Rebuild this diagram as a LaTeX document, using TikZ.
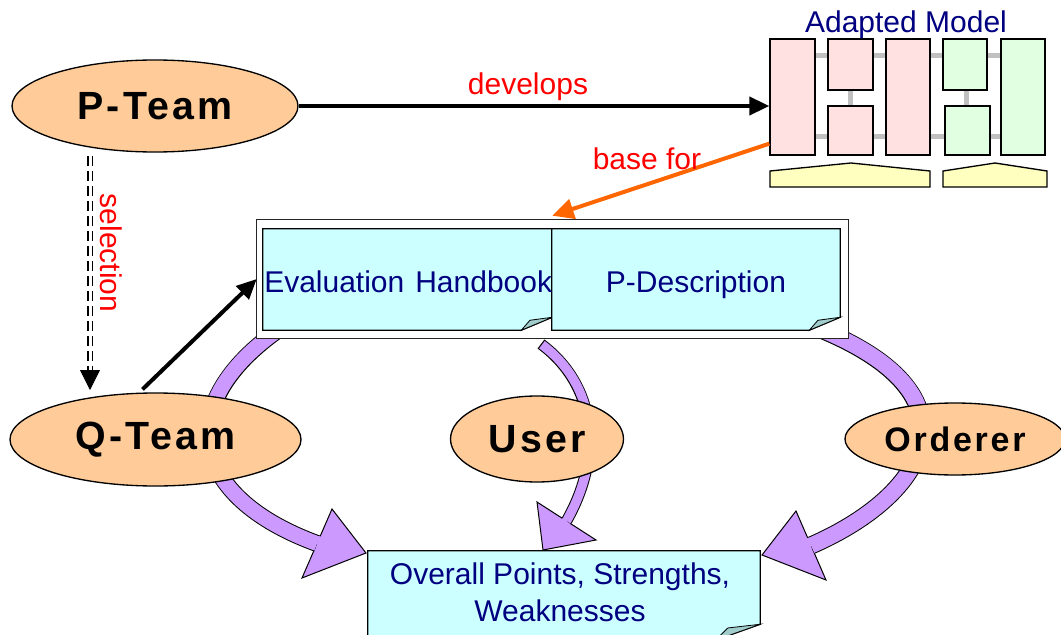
\documentclass[tikz,border=0pt]{standalone}
\usepackage{fontspec}
\setmainfont{Liberation Sans}
\newfontfamily\teamfont{Liberation Sans}[LetterSpace=8]
\usetikzlibrary{arrows.meta,calc,shapes.geometric}
\definecolor{peach}{RGB}{255,204,153}
\definecolor{notecyan}{RGB}{204,255,255}
\definecolor{foldcol}{RGB}{160,204,204}
\definecolor{lilac}{RGB}{204,153,255}
\definecolor{navy}{RGB}{0,0,128}
\definecolor{orangeA}{RGB}{255,102,0}
\definecolor{pinkbox}{RGB}{255,225,225}
\definecolor{greenbox}{RGB}{225,255,225}
\definecolor{yellowbox}{RGB}{255,255,192}
\definecolor{greyconn}{RGB}{192,192,192}
\pgfdeclarelayer{back}
\pgfdeclarelayer{mid}
\pgfsetlayers{back,mid,main}
% #1 node, #2 fold width, #3 fold height
\newcommand\drawnote[3]{%
  \filldraw[notefill] (#1.north west) -- (#1.north east) -- ($(#1.south east)+(0,-#3)$)
    -- ($(#1.south east)+(-#2,0)$) -- (#1.south west) -- cycle;
  \filldraw[foldfill] ($(#1.south east)+(0,-#3)$) -- ($(#1.south east)+(-0.72*#2,-0.77*#3)$)
    -- ($(#1.south east)+(-#2,0)$) -- cycle;}
% #1 start #2 c1 #3 c2 #4 base mid #5 p1 #6 tip #7 p2 #8 fill width #9 outline width
\newcommand\blockarrow[9]{%
  \filldraw[fill=lilac, draw=black, line width=0.75pt, line join=miter] #5 -- #6 -- #7 -- cycle;
  \draw[black, line width=#9] #1 .. controls #2 and #3 .. #4;
  \draw[lilac, line width=#8, shorten <=0.9pt] #1 .. controls #2 and #3 .. #4;
  \draw[lilac, line width=#8] #4 -- ($#4!2pt!#6$);}
\begin{document}
\begin{tikzpicture}[x=0.75pt,y=-0.75pt,
  team/.style={ellipse, draw=black, line width=1pt, fill=peach, inner sep=0pt,
    font=\teamfont\bfseries\fontsize{29.5pt}{33pt}\selectfont},
  redlabel/.style={text=red, font=\fontsize{22.5pt}{27pt}\selectfont, inner sep=0pt},
  notetext/.style={text=navy, font=\fontsize{22.5pt}{27.75pt}\selectfont, inner sep=0pt},
  notefill/.style={fill=notecyan, draw=black, line width=0.9pt},
  foldfill/.style={fill=foldcol, draw=black, line width=0.6pt},
  pinkmod/.style={draw=black, line width=1pt, fill=pinkbox, inner sep=0pt},
  greenmod/.style={draw=black, line width=1pt, fill=greenbox, inner sep=0pt},
  yellowmod/.style={draw=black, line width=1pt, fill=yellowbox},
  conn/.style={draw=greyconn, line width=3.75pt},
  blackarrow/.style={draw=black, line width=3pt, -{Triangle[length=15pt,width=13.5pt]}},
  basearrow/.style={draw=orangeA, line width=3pt, -{Triangle[length=16pt,width=15pt]}},
  seldash/.style={draw=black, line width=1.1pt, double=white, double distance=2.25pt,
    dash pattern=on 7.5pt off 3.75pt},
  seltip/.style={draw=black, line width=0.6pt, -{Triangle[length=15pt,width=15pt]}},
  box/.style={inner sep=0pt}
]
\useasboundingbox (0,0) rectangle (1061,635);

% team ellipses
\node[team, minimum width=214.5pt, minimum height=69pt] (pteam) at (155,106) {P-Team};
\node[team, minimum width=218.25pt, minimum height=69.75pt] (qteam) at (155.5,439.5) {Q-Team};
\node[team, minimum width=129.75pt, minimum height=64.5pt] (user) at (537,439) {User};
\node[team, minimum width=165pt, minimum height=54pt,
  font=\teamfont\bfseries\fontsize{25.5pt}{29pt}\selectfont] (orderer) at (955,439) {Orderer};

% adapted model
\node[pinkmod, minimum width=33.75pt, minimum height=87pt] (b1) at (792.5,97) {};
\node[pinkmod, minimum width=33.75pt, minimum height=38.25pt] (b2) at (850.5,64.5) {};
\node[pinkmod, minimum width=33.75pt, minimum height=36.75pt] (b3) at (850.5,130.5) {};
\node[pinkmod, minimum width=33pt, minimum height=87pt] (b4) at (908,97) {};
\node[greenmod, minimum width=33pt, minimum height=38.25pt] (b5) at (965,64.5) {};
\node[greenmod, minimum width=33.75pt, minimum height=36.75pt] (b6) at (967.5,130.5) {};
\node[greenmod, minimum width=33pt, minimum height=87pt] (b7) at (1023,97) {};
\begin{pgfonlayer}{mid}
  \draw[conn] (b1.east |- 0,56) -- (b7.west |- 0,56);
  \draw[conn] (b1.east |- 0,137) -- (b7.west |- 0,137);
  \draw[conn] (b2.south) -- (b3.north);
  \draw[conn] (966,90) -- (966,106);
\end{pgfonlayer}
\filldraw[yellowmod] (770,187) -- (770,171) -- (851,163) -- (930,171) -- (930,187) -- cycle;
\filldraw[yellowmod] (943,187) -- (943,171) -- (995,163) -- (1047,171) -- (1047,187) -- cycle;
\node[text=navy, font=\fontsize{22.5pt}{27pt}\selectfont, inner sep=0pt, anchor=base] (amlabel) at (906,33) {Adapted Model};

% documents
\node[box, minimum width=443.25pt, minimum height=88.5pt] (docs) at (552.5,279) {};
\node[box, minimum width=216.75pt, minimum height=75.75pt] (eval) at (407.5,279.5) {};
\node[box, minimum width=216pt, minimum height=75.75pt] (pdesc) at (696,279.5) {};
\node[box, minimum width=294pt, minimum height=66.75pt] (overall) at (564,595.5) {};
\begin{pgfonlayer}{mid}
  \filldraw[fill=white, draw=black!85, line width=0.9pt] (docs.north west) rectangle (docs.south east);
  \drawnote{eval}{31}{13}
  \drawnote{pdesc}{31}{13}
  \drawnote{overall}{45}{16}
\end{pgfonlayer}
\node[notetext, anchor=base west] (evaltext) at (264,292) {Evaluation\hspace{2pt} Handbook};
\node[notetext, anchor=base] (pdesctext) at (696,292) {P-Description};
\node[notetext, align=center] (overalltext) at (560,592.5) {Overall Points, Strengths,\\Weaknesses};

% purple block arrows
\begin{pgfonlayer}{back}
  \blockarrow{(281,328)}{(170,405)}{(190,497)}{(317,543.5)}{(332,509)}{(366,553)}{(302,578)}{11.25pt}{12.75pt}
  \blockarrow{(541,344)}{(596,385)}{(604,455)}{(566.5,521)}{(537,502)}{(543,550)}{(596,540)}{7pt}{8.5pt}
  \blockarrow{(790,318)}{(990,385)}{(935,491.5)}{(811,545.5)}{(796,511)}{(762,555)}{(826,580)}{12pt}{13.5pt}
\end{pgfonlayer}

% connectors
\draw[blackarrow] (pteam.east) -- (pteam.east -| b1.west);
\node[redlabel, anchor=base] (devlabel) at (528,95) {develops};
\draw[basearrow] ($(b1.south west)+(0,-12)$) -- ($(docs.north -| eval.east)+(0,-4)$);
\node[redlabel, anchor=base] (baselabel) at (647,170) {base for};
\draw[blackarrow] ($(qteam.north)+(-13,-3)$) -- (docs.west);
\coordinate (selA) at (90,156);
\coordinate (selB) at (90,390);
\draw[seldash] (selA) -- ($(selB)+(0,-18)$);
\draw[seltip] ($(selB)+(0,-20)$) -- (selB);
\node[redlabel, rotate=-90] (sellabel) at (111,253) {selection};
\end{tikzpicture}
\end{document}
